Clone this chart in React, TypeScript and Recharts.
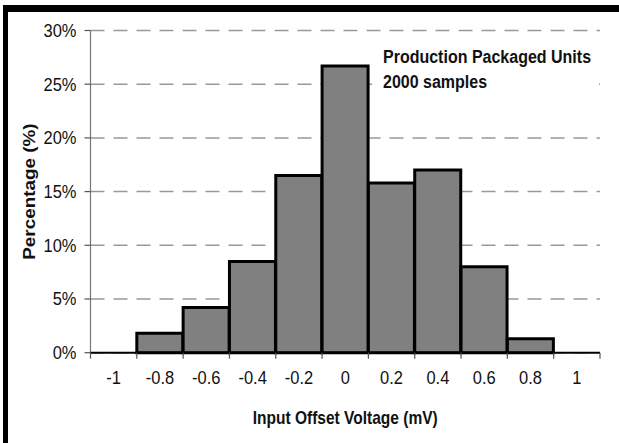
import React from 'react';
import { BarChart, Bar, XAxis, YAxis, CartesianGrid, Label } from 'recharts';

// ---- data ----
const categories = ['-1', '-0.8', '-0.6', '-0.4', '-0.2', '0', '0.2', '0.4', '0.6', '0.8', '1'];
const percentages: (number | null)[] = [null, 1.8, 4.2, 8.5, 16.5, 26.7, 15.8, 17.0, 8.0, 1.3, null];
const yTicks = [0, 5, 10, 15, 20, 25, 30];
const xTitle = 'Input Offset Voltage (mV)';
const yTitle = 'Percentage (%)';
const noteLines = ['Production Packaged Units', '2000 samples'];

const data = categories.map((c, i) => ({ bin: c, pct: percentages[i] }));

// ---- layout ----
const W = 619;
const H = 443;
const MARGIN = { top: 30.5, right: 19, bottom: 30.3, left: 0 };
const Y_AXIS_W = 90.5;
const X_AXIS_H = 60;
const PLOT_W = W - MARGIN.left - MARGIN.right - Y_AXIS_W;
const BAND = PLOT_W / categories.length;
const X_TICK_SIZE = 6;
const X_TICK_MARGIN = 2;
const FONT = '"Liberation Sans", Arial, sans-serif';

const XTick = (props: any) => {
  const { x, y, payload, index } = props;
  const axisY = y - X_TICK_SIZE - X_TICK_MARGIN;
  const half = BAND / 2;
  return (
    <g>
      <line x1={x - half} x2={x - half} y1={axisY} y2={axisY + X_TICK_SIZE} stroke="#555" strokeWidth={1.2} />
      {index === categories.length - 1 && (
        <line x1={x + half} x2={x + half} y1={axisY} y2={axisY + X_TICK_SIZE} stroke="#555" strokeWidth={1.2} />
      )}
      <text
        transform={`translate(${x},${axisY + 24.5}) scale(1,1.12)`}
        textAnchor="middle"
        dominantBaseline="central"
        fontSize={16.5}
        fill="#111"
        fontFamily={FONT}
      >
        {payload.value}
      </text>
    </g>
  );
};

const YTick = (props: any) => {
  const { x, y, payload } = props;
  return (
    <text
      transform={`translate(${x},${y}) scale(1,1.12)`}
      textAnchor="end"
      dominantBaseline="central"
      fontSize={16.5}
      fill="#111"
      fontFamily={FONT}
    >
      {`${payload.value}%`}
    </text>
  );
};

const YTitle = (props: any) => {
  const vb = props.viewBox || {};
  const cx = (vb.x || 0) + 30;
  const cy = (vb.y || 0) + (vb.height || 0) / 2;
  return (
    <text
      transform={`translate(${cx},${cy}) rotate(-90) scale(1.18,1)`}
      textAnchor="middle"
      dominantBaseline="central"
      fontSize={16}
      fontWeight="bold"
      fill="#111"
      fontFamily={FONT}
    >
      {yTitle}
    </text>
  );
};

const XTitle = (props: any) => {
  const vb = props.viewBox || {};
  const cx = (vb.x || 0) + (vb.width || 0) / 2;
  const cy = (vb.y || 0) + 65.5;
  return (
    <text
      transform={`translate(${cx},${cy}) scale(0.97,1.15)`}
      textAnchor="middle"
      dominantBaseline="central"
      fontSize={16}
      fontWeight="bold"
      fill="#111"
      fontFamily={FONT}
    >
      {xTitle}
    </text>
  );
};

export default function App() {
  return (
    <div style={{ position: 'absolute', left: 0, top: 0, width: W, height: H, background: '#fff', overflow: 'hidden' }}>
      <BarChart
        width={W}
        height={H}
        data={data}
        margin={MARGIN}
        barCategoryGap={0}
        barGap={0}
        style={{ fontFamily: FONT }}
      >
        <CartesianGrid vertical={false} stroke="#999" strokeWidth={1.5} strokeDasharray="14 9" />
        <XAxis
          xAxisId="top"
          orientation="top"
          dataKey="bin"
          height={0}
          tick={false}
          tickLine={false}
          axisLine={{ stroke: '#888', strokeWidth: 1.2 }}
        />
        <YAxis
          yAxisId="right"
          orientation="right"
          type="number"
          domain={[0, 30]}
          width={0}
          tick={false}
          tickLine={false}
          axisLine={{ stroke: '#888', strokeWidth: 1.2 }}
        />
        <YAxis
          type="number"
          domain={[0, 30]}
          ticks={yTicks}
          width={Y_AXIS_W}
          tickSize={6}
          tickMargin={8}
          tickLine={{ stroke: '#555', strokeWidth: 1.2 }}
          axisLine={{ stroke: '#777', strokeWidth: 1.2 }}
          tick={<YTick />}
          interval={0}
        >
          <Label content={YTitle} />
        </YAxis>
        <XAxis
          dataKey="bin"
          height={X_AXIS_H}
          interval={0}
          tickLine={false}
          tickSize={X_TICK_SIZE}
          tickMargin={X_TICK_MARGIN}
          axisLine={{ stroke: '#000', strokeWidth: 2 }}
          tick={<XTick />}
        >
          <Label content={XTitle} />
        </XAxis>
        <Bar dataKey="pct" fill="#808080" stroke="#000" strokeWidth={3} isAnimationActive={false} />
      </BarChart>

      <div
        style={{
          position: 'absolute',
          left: 372,
          top: 37,
          width: 227,
          height: 62,
          background: '#fff',
        }}
      >
        <div
          style={{
            position: 'absolute',
            left: 11,
            top: 6.5,
            fontFamily: FONT,
            fontWeight: 'bold',
            fontSize: 16,
            lineHeight: '25px',
            color: '#111',
            whiteSpace: 'nowrap',
          }}
        >
          {noteLines.map((t) => (
            <div key={t} style={{ transform: 'scale(1,1.15)', transformOrigin: 'left center' }}>{t}</div>
          ))}
        </div>
      </div>

      <div style={{ position: 'absolute', left: 3, top: 5, width: W - 3, height: 7, background: '#000' }} />
      <div style={{ position: 'absolute', left: 3, top: 5, width: 5, height: H - 5, background: '#000' }} />
    </div>
  );
}
